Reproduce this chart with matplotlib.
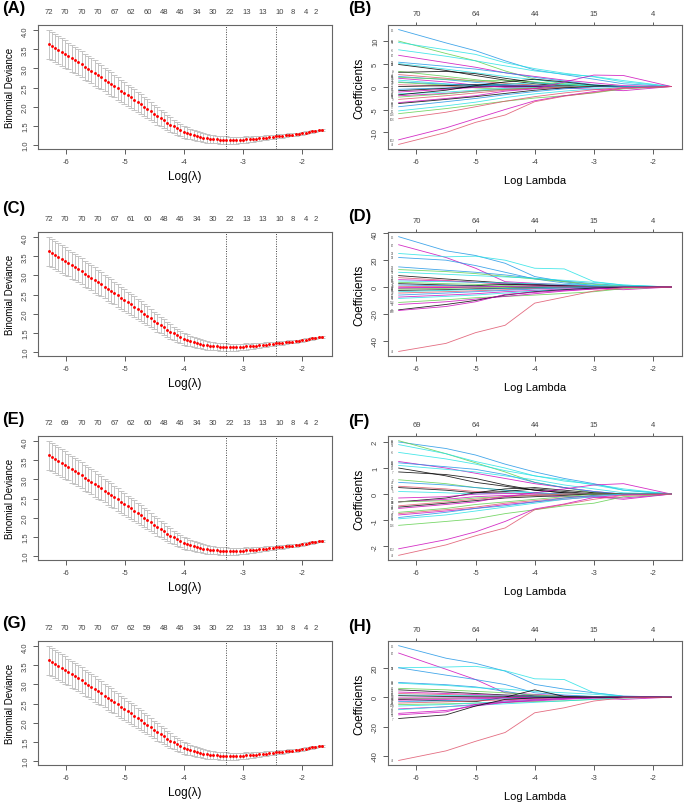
import numpy as np
import matplotlib
matplotlib.use("Agg")
import matplotlib.pyplot as plt

plt.rcParams['font.family'] = ['Liberation Sans', 'DejaVu Sans']
plt.rcParams['axes.unicode_minus'] = False

# ---- cross-validation curves (left column) ----
log_lambda = np.linspace(-6.30, -1.66, 84)

cv_mean = [3.63, 3.58, 3.53, 3.48, 3.43, 3.38, 3.33, 3.27, 3.22, 3.16,
           3.11, 3.05, 2.99, 2.94, 2.88, 2.82, 2.77, 2.71, 2.65, 2.59,
           2.54, 2.48, 2.42, 2.36, 2.30, 2.24, 2.18, 2.12, 2.06, 2.00,
           1.94, 1.88, 1.82, 1.76, 1.70, 1.64, 1.58, 1.53, 1.48, 1.43,
           1.38, 1.34, 1.31, 1.28, 1.25, 1.23, 1.21, 1.19, 1.17, 1.16,
           1.15, 1.14, 1.13, 1.13, 1.12, 1.12, 1.12, 1.12, 1.13, 1.13,
           1.14, 1.14, 1.15, 1.16, 1.17, 1.18, 1.19, 1.20, 1.21, 1.22,
           1.23, 1.24, 1.25, 1.26, 1.27, 1.28, 1.29, 1.30, 1.32, 1.33,
           1.35, 1.36, 1.38, 1.39]
cv_se = [0.37, 0.37, 0.37, 0.36, 0.36, 0.36, 0.35, 0.35, 0.35, 0.34,
         0.34, 0.34, 0.33, 0.33, 0.33, 0.32, 0.32, 0.31, 0.31, 0.31,
         0.30, 0.30, 0.29, 0.29, 0.28, 0.28, 0.27, 0.27, 0.26, 0.25,
         0.25, 0.24, 0.23, 0.23, 0.22, 0.21, 0.20, 0.19, 0.18, 0.17,
         0.16, 0.15, 0.15, 0.14, 0.13, 0.13, 0.12, 0.12, 0.11, 0.11,
         0.11, 0.10, 0.10, 0.10, 0.10, 0.09, 0.09, 0.09, 0.08, 0.08,
         0.08, 0.07, 0.07, 0.07, 0.06, 0.06, 0.06, 0.06, 0.05, 0.05,
         0.05, 0.05, 0.04, 0.04, 0.04, 0.04, 0.03, 0.03, 0.03, 0.03,
         0.03, 0.02, 0.02, 0.02]
idx_min, idx_1se = 54, 69

top_idx = [0, 5, 10, 15, 20, 25, 30, 35, 40, 45, 50, 55, 60, 65, 70, 74, 78, 81]
nz_A = [72, 70, 70, 70, 67, 62, 60, 48, 46, 34, 30, 22, 13, 13, 10, 8, 4, 2]
nz_C = [72, 70, 70, 70, 67, 61, 60, 48, 46, 34, 30, 22, 13, 13, 10, 8, 4, 2]
nz_E = [72, 69, 70, 70, 67, 62, 60, 48, 46, 34, 30, 22, 13, 13, 10, 8, 4, 2]
nz_G = [72, 70, 70, 70, 67, 62, 59, 48, 46, 34, 30, 22, 13, 13, 10, 8, 4, 2]

# ---- coefficient paths (right column), values at these log-lambda knots ----
knots = [-6.30, -5.5, -5.0, -4.5, -4.0, -3.5, -3.0, -2.5, -1.69]
palette = {'k': '#000000', 'r': '#DF536B', 'g': '#61D04F',
           'b': '#2297E6', 'c': '#28E2E5', 'm': '#CD0BBC'}

B_paths = [
    [12.4, 9.5, 7.8, 5.6, 3.6, 2.6, 1.6, 0.6, 0],
    [9.9, 7.2, 5.6, 3.4, 1.6, 0.6, 0.1, 0, 0],
    [9.6, 8.0, 7.0, 5.2, 3.9, 2.9, 2.1, 1.0, 0],
    [8.0, 6.6, 5.6, 4.5, 3.4, 2.7, 2.2, 1.3, 0],
    [6.8, 5.2, 4.2, 3.0, 2.2, 1.4, 0.8, 0.2, 0],
    [5.3, 4.4, 3.8, 3.0, 2.0, 1.2, 0.4, 0, 0],
    [5.0, 3.8, 3.0, 2.2, 1.5, 0.8, 0.2, 0, 0],
    [4.8, 3.5, 2.4, 1.4, 0.6, 0.1, 0, 0, 0],
    [3.3, 2.2, 1.5, 0.8, 0.3, 0, 0, 0, 0],
    [3.1, 3.3, 2.8, 1.8, 0.9, 0.3, 0, 0, 0],
    [2.6, 1.8, 1.2, 0.7, 0.3, 0, 0, 0, 0],
    [2.2, 1.5, 0.9, 0.4, 0.1, 0, 0, 0, 0],
    [2.0, 1.6, 1.2, 1.4, 1.0, 0.5, 0.1, 0, 0],
    [1.8, 1.0, 0.3, -0.2, -0.3, -0.1, 0, 0, 0],
    [1.4, 0.6, 0.2, 0.5, 0.8, 0.4, 0.1, 0, 0],
    [1.0, 0.5, 0.3, 0.1, 0, 0, 0, 0, 0],
    [0.9, 0.3, -0.3, -0.6, -0.4, -0.1, 0, 0, 0],
    [0.4, 0.1, 0.0, 0.2, 0.1, 0, 0, 0, 0],
    [0.0, 0.2, 0.4, 0.3, 0.1, 0, 0, 0, 0],
    [-0.6, -0.3, 0.1, 0.3, 0.2, 0, 0, 0, 0],
    [-0.9, -0.4, -0.1, 0.0, 0.0, 0, 0, 0, 0],
    [-1.2, -0.6, -0.2, 0.1, 0.1, 0, 0, 0, 0],
    [-1.6, -1.2, -0.8, -0.4, -0.2, 0, 0, 0, 0],
    [-1.8, -0.8, 0.2, 1.0, 1.6, 1.0, 0.3, 0, 0],
    [-2.0, -1.5, -1.0, -0.6, -0.4, -0.3, -0.6, -0.9, 0],
    [-2.3, -1.6, -1.0, -0.6, -0.3, -0.1, 0, 0, 0],
    [-2.8, -2.0, -1.4, -0.8, -0.4, -0.1, 0, 0, 0],
    [-3.5, -2.6, -2.0, -1.0, -0.5, 1.0, 2.5, 2.4, 0],
    [-3.7, -2.8, -2.2, -1.5, -0.8, -0.3, 0, 0, 0],
    [-4.4, -3.3, -2.6, -1.8, -1.1, -0.5, -0.1, 0, 0],
    [-5.3, -4.2, -3.4, -2.4, -1.6, -1.0, -0.5, -0.1, 0],
    [-5.9, -4.8, -4.0, -3.2, -2.5, -2.0, -1.4, -0.5, 0],
    [-7.0, -5.6, -4.4, -3.2, -2.2, -1.4, -0.7, -0.2, 0],
    [-11.6, -9.0, -7.0, -5.0, -3.1, -2.0, -1.1, -0.3, 0],
    [-12.6, -10.0, -7.8, -6.2, -3.3, -2.1, -1.3, -0.4, 0],
]
B_cols = ['b', 'g', 'c', 'c', 'm', 'b', 'c', 'k', 'g', 'k', 'r', 'b', 'g', 'm', 'c',
          'b', 'g', 'r', 'k', 'b', 'k', 'm', 'c', 'k', 'm', 'g', 'r', 'm', 'k', 'b',
          'c', 'g', 'r', 'm', 'r']
B_labels = ['15', '96', '58', '76', '26', '38', '90', '19', '3', '7', '44', '12', '61', '5', '33',
            '21', '8', '27', '49', '64', '2', '70', '11', '13', '52', '41', '9', '88', '30', '57',
            '66', '116', '106', '102', '47']

D_paths = [
    [37.5, 27, 23.5, 17.7, 7.8, 4.0, 1.0, 0.2, 0],
    [31.5, 22, 14, 4.0, 2.8, 1.8, 0.8, 0.3, 0],
    [25, 22.5, 23, 20, 14, 13.5, 4, 1.5, 0],
    [22, 20, 16, 11, 6, 3, 1, 0.2, 0],
    [15, 12.5, 11, 9, 6.5, 4.5, 2.5, 1, 0],
    [13, 11.5, 10, 8, 6, 4, 2, 0.6, 0],
    [11, 9.5, 8.5, 7.5, 6.5, 5.0, 3.5, 1.5, 0],
    [8.5, 6, 4.5, 3, 2, 1, 0.3, 0, 0],
    [7, 5, 3.5, 2.2, 1.2, 0.5, 0, 0, 0],
    [5.5, 4.5, 3.5, 2.5, 1.5, 0.8, 0.2, 0, 0],
    [4.5, 4, 3.5, 3, 2.5, 2, 1.4, 0.5, 0],
    [3.5, 2.5, 2, 1.2, 0.6, 0.2, 0, 0, 0],
    [2.5, 1.5, 1.0, 2.0, 1.5, 0.8, 0.2, 0, 0],
    [1.5, 1.0, 0.5, 0.3, 0.1, 0, 0, 0, 0],
    [0.5, 0.3, 0.1, 0, 0, 0, 0, 0, 0],
    [-0.5, -0.3, -0.8, -1.0, -0.8, -0.4, -0.1, 0, 0],
    [-1.0, -0.5, 0, 0.5, 0.6, 0.4, -1.0, -2.0, 0],
    [-1.5, -1.0, -0.6, -0.3, -0.1, 0, 0, 0, 0],
    [-2.5, -2.0, -1.5, -1.0, -0.5, -0.2, 0, 0, 0],
    [-3.5, -2.5, -1.8, -1.2, -0.6, -0.2, 0, 0, 0],
    [-4.5, -3.5, -2.8, -2.0, -1.2, -0.6, -0.1, 0, 0],
    [-6, -4.5, -3.5, -2.5, -1.5, -0.7, -0.2, 0, 0],
    [-7.5, -6, -5, -3.5, -2.5, -1.5, -0.6, -0.1, 0],
    [-8.5, -7, -6, -4.5, -3, -2, -1, -0.3, 0],
    [-11.5, -9.5, -8, -7, -6, -4.8, -3.5, -1.2, 0],
    [-13, -11, -9, -7, -5, -3, -1.5, -0.4, 0],
    [-17, -13, -10, -6, -3.5, -2, -0.8, -0.2, 0],
    [-17.5, -14.5, -11, -5.5, -4, -2.5, -1.5, -0.5, 0],
    [-48, -42, -34, -28.5, -12, -7.5, -3, -0.5, 0],
]
D_cols = ['b', 'm', 'c', 'b', 'b', 'g', 'c', 'k', 'r', 'm', 'c', 'g', 'k', 'b', 'r',
          'm', 'm', 'g', 'k', 'c', 'r', 'b', 'm', 'c', 'g', 'm', 'k', 'm', 'r']
D_labels = ['15', '26', '33', '90', '38', '61', '58', '19', '44', '12', '66', '3', '7', '21', '8',
            '27', '88', '49', '64', '2', '70', '11', '13', '52', '116', '58', '19', '102', '47']

F_paths = [
    [2.0, 1.75, 1.5, 1.15, 0.85, 0.6, 0.4, 0.15, 0],
    [2.05, 1.55, 1.2, 0.85, 0.45, 0.25, 0.05, 0, 0],
    [1.9, 1.55, 1.25, 1.0, 0.7, 0.55, 0.35, 0.15, 0],
    [1.6, 1.35, 1.15, 0.9, 0.7, 0.5, 0.38, 0.2, 0],
    [1.25, 1.0, 0.8, 0.6, 0.4, 0.25, 0.1, 0, 0],
    [1.2, 1.05, 0.95, 0.75, 0.45, 0.25, 0.1, 0, 0],
    [1.1, 0.95, 0.85, 0.7, 0.55, 0.35, 0.2, 0.05, 0],
    [1.0, 0.7, 0.45, 0.3, 0.15, 0.05, 0, 0, 0],
    [0.85, 0.75, 0.6, 0.35, 0.15, 0.05, 0, 0, 0],
    [0.55, 0.4, 0.25, 0.15, 0.05, 0, 0, 0, 0],
    [0.45, 0.35, 0.25, 0.15, 0.05, 0, 0, 0, 0],
    [0.3, 0.2, 0.1, 0.05, 0, 0, 0, 0, 0],
    [0.25, 0.15, 0.05, 0.1, 0.2, 0.1, 0, 0, 0],
    [0.1, 0.05, 0.0, 0.05, 0.05, 0, 0, 0, 0],
    [-0.3, -0.15, 0.05, 0.2, 0.25, 0.15, 0.05, 0, 0],
    [-0.15, -0.1, 0, 0.02, 0, 0, 0, 0, 0],
    [-0.3, -0.2, -0.1, -0.05, -0.05, -0.1, -0.1, -0.2, 0],
    [-0.3, -0.25, -0.15, -0.1, -0.05, 0, 0, 0, 0],
    [-0.45, -0.3, -0.2, -0.1, -0.05, 0, 0, 0, 0],
    [-0.5, -0.35, -0.25, -0.15, -0.1, -0.05, 0, 0, 0],
    [-0.55, -0.4, -0.3, -0.1, 0.05, 0.2, 0.35, 0.4, 0],
    [-0.7, -0.55, -0.4, -0.3, -0.2, -0.1, 0, 0, 0],
    [-0.75, -0.6, -0.5, -0.35, -0.25, -0.15, -0.05, 0, 0],
    [-0.8, -0.65, -0.55, -0.4, -0.3, -0.2, -0.1, -0.15, 0],
    [-0.9, -0.7, -0.55, -0.45, -0.3, -0.15, -0.05, 0, 0],
    [-0.95, -0.8, -0.65, -0.5, -0.35, -0.2, -0.1, 0, 0],
    [-1.2, -1.05, -0.95, -0.75, -0.6, -0.45, -0.35, -0.1, 0],
    [-2.1, -1.75, -1.45, -1.05, -0.57, -0.38, -0.13, -0.03, 0],
    [-2.35, -1.95, -1.6, -1.3, -0.6, -0.4, -0.2, -0.05, 0],
]
F_cols = ['b', 'g', 'c', 'c', 'm', 'b', 'c', 'k', 'k', 'g', 'b', 'r', 'k', 'c', 'k',
          'm', 'm', 'g', 'r', 'k', 'm', 'g', 'r', 'm', 'b', 'c', 'g', 'm', 'r']
F_labels = ['15', '96', '58', '76', '26', '38', '90', '19', '7', '3', '44', '12', '61', '5', '33',
            '21', '88', '8', '27', '49', '64', '2', '70', '11', '13', '52', '116', '102', '47']

H_paths = [
    [35, 26.5, 23, 17.7, 8.7, 5.5, 3, 0.8, 0],
    [30, 19, 12, 3, 1.9, 1.0, 0.4, 0.1, 0],
    [20, 20.5, 21, 18, 12.5, 12, 3, 0.5, 0],
    [20, 15, 12, 8.6, 3, 1.5, 0.5, 0, 0],
    [10, 8.5, 7, 4, 0.7, 0.3, 0, 0, 0],
    [9.5, 8, 6.5, 5.5, 4, 3, 2, 0.5, 0],
    [6, 5, 4, 3, 1.5, 0.6, 0.1, 0, 0],
    [5, 3.5, 2.5, 1.5, 0.8, 0.3, 0, 0, 0],
    [3.5, 2.5, 1.8, 1.2, 0.6, 0.2, 0, 0, 0],
    [2.5, 1.8, 1.2, 0.6, 0.2, 0, 0, 0, 0],
    [1.5, 1.2, 1.0, 0.8, 0.5, 0.2, 0, 0, 0],
    [1.0, 0.5, 0.3, 0.2, 0.1, 0, 0, 0, 0],
    [-1.5, -2.5, -3, 0, 5, 0.5, 0, 0, 0],
    [-1, -0.8, -0.5, -0.3, -0.1, 0, 0, 0, 0],
    [-0.5, -0.5, -0.3, -0.2, -0.2, -0.3, -0.6, -1.5, 0],
    [-2, -1.5, -1, -0.6, -0.3, -0.1, 0, 0, 0],
    [-3, -2.4, -1.8, -1.2, -0.6, -0.2, 0, 0, 0],
    [-4, -3.2, -2.5, -1.8, -1.0, -0.4, -0.1, 0, 0],
    [-5, -4.5, -4, -3.5, -3, -2.5, -1.5, -0.5, 0],
    [-6, -5, -4, -3, -2, -1, -0.3, 0, 0],
    [-8, -6.5, -5, -3.5, -2.5, -1.5, -0.5, -0.1, 0],
    [-8.5, -6.5, -5.5, -4.5, -3.5, -2.5, -1.5, -0.5, 0],
    [-11, -9, -6, -3.5, -2, -1, -0.3, 0, 0],
    [-12, -10, -5, -2.5, -1.5, -0.8, -0.2, 0, 0],
    [-14.5, -12, -6, -1.5, -0.5, 0, 0, 0, 0],
    [-43, -36.5, -30, -24, -10.6, -7.2, -2.6, -0.4, 0],
]
H_cols = ['b', 'm', 'c', 'b', 'b', 'c', 'g', 'k', 'm', 'r', 'c', 'k', 'k', 'g', 'm',
          'm', 'b', 'r', 'g', 'c', 'm', 'c', 'm', 'm', 'k', 'r']
H_labels = ['15', '26', '58', '33', '38', '90', '61', '19', '44', '12', '66', '3', '21', '8', '88',
            '27', '49', '64', '116', '2', '70', '11', '13', '52', '7', '47']

top_ticks = [-6, -5, -4, -3, -2]
nz_B = [70, 64, 44, 15, 4]
nz_D = [70, 64, 44, 15, 4]
nz_F = [69, 64, 44, 15, 4]
nz_H = [70, 64, 44, 15, 4]

# ---- layout (pixels) ----
W, H = 685, 804
row_top = [26, 233, 437, 642]
box_h = 124
left_x, right_x, box_w = 38, 388, 294
letters_left = [('(A)', 9), ('(C)', 209), ('(E)', 420), ('(G)', 624)]
letters_right = [('(B)', 9), ('(D)', 217), ('(F)', 422), ('(H)', 627)]

AX_COL = '#444444'
fig = plt.figure(figsize=(W / 100, H / 100), dpi=100)


def make_ax(x0, top):
    ax = fig.add_axes([x0 / W, 1 - (top + box_h) / H, box_w / W, box_h / H])
    for s in ax.spines.values():
        s.set_color('#666666')
        s.set_linewidth(0.8)
    ax.tick_params(axis='both', colors=AX_COL, labelsize=5.5, length=3.5, width=0.6, pad=3)
    return ax


def style_yticks(ax, ticks, fmt):
    ax.set_yticks(ticks)
    ax.set_yticklabels([fmt.format(t) for t in ticks], rotation=90, va='center')


def cv_panel(top, nz):
    ax = make_ax(left_x, top)
    m = np.array(cv_mean)
    s = np.array(cv_se)
    ax.errorbar(log_lambda, m, yerr=s, fmt='none', ecolor='#C4C4C4',
                elinewidth=0.7, capsize=2.4, capthick=0.7, zorder=1)
    ax.plot(log_lambda, m, 'o', color='red', markersize=2.1, markeredgewidth=0, zorder=3)
    for i in (idx_min, idx_1se):
        ax.axvline(log_lambda[i], color='#444444', linestyle=(0, (1, 1.5)), linewidth=0.7)
    ax.set_xlim(-6.48, -1.49)
    ax.set_ylim(0.89, 4.14)
    ax.set_xticks(top_ticks)
    style_yticks(ax, [1.0, 1.5, 2.0, 2.5, 3.0, 3.5, 4.0], '{:.1f}')
    for i, n in zip(top_idx, nz):
        ax.text(log_lambda[i], 1.105, str(n), transform=ax.get_xaxis_transform(),
                ha='center', va='center', fontsize=5.5, color=AX_COL)
    ax.set_xlabel('Log(λ)', fontsize=8.5, labelpad=3.5)
    ax.set_ylabel('Binomial Deviance', fontsize=7, labelpad=5)
    return ax


def coef_panel(top, paths, cols, labels, ylim, yticks, nz):
    ax = make_ax(right_x, top)
    for vals, c in zip(paths, cols):
        ax.plot(knots, vals, color=palette[c], linewidth=0.6, alpha=0.85)
    for vals, lab in zip(paths, labels):
        ax.text(-6.41, vals[0], lab, fontsize=2.0, color='#555555', ha='center', va='center')
    ax.set_xlim(-6.48, -1.51)
    ax.set_ylim(*ylim)
    ax.set_xticks(top_ticks)
    style_yticks(ax, yticks, '{:g}')
    sec = ax.secondary_xaxis('top')
    sec.set_xticks(top_ticks)
    sec.set_xticklabels([str(n) for n in nz])
    sec.tick_params(colors=AX_COL, labelsize=5.5, length=2, width=0.6, pad=4)
    sec.spines['top'].set_visible(False)
    ax.set_xlabel('Log Lambda', fontsize=8, labelpad=7)
    ax.set_ylabel('Coefficients', fontsize=8.5, labelpad=5)
    return ax


cv_panel(row_top[0], nz_A)
cv_panel(row_top[1], nz_C)
cv_panel(row_top[2], nz_E)
cv_panel(row_top[3], nz_G)

coef_panel(row_top[0], B_paths, B_cols, B_labels, (-13.6, 13.4), [-10, -5, 0, 5, 10], nz_B)
coef_panel(row_top[1], D_paths, D_cols, D_labels, (-51.4, 41.0), [-40, -20, 0, 20, 40], nz_D)
coef_panel(row_top[2], F_paths, F_cols, F_labels, (-2.53, 2.23), [-2, -1, 0, 1, 2], nz_F)
coef_panel(row_top[3], H_paths, H_cols, H_labels, (-46.1, 38.2), [-40, -20, 0, 20], nz_H)

for (txt, yc) in letters_left:
    fig.text(2 / W, 1 - yc / H, txt, fontsize=12, fontweight='bold', ha='left', va='center')
for (txt, yc) in letters_right:
    fig.text(348 / W, 1 - yc / H, txt, fontsize=12, fontweight='bold', ha='left', va='center')

fig.savefig('out.png', dpi=100)
